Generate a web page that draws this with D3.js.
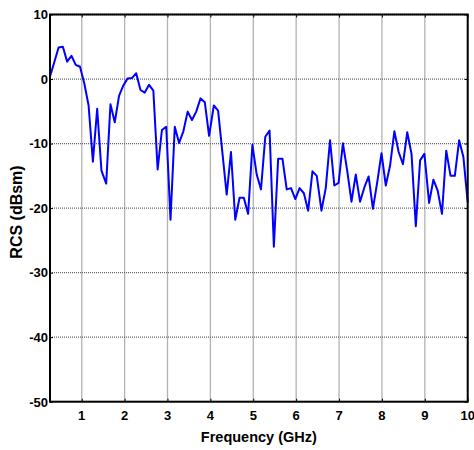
<!DOCTYPE html>
<meta charset="utf-8">
<style>
body { margin: 0; background: #fff; }
text { font-family: "Liberation Sans", Arial, sans-serif; font-weight: bold; fill: #000; }
</style>
<body>
<div id="chart"></div>
<script src="https://d3js.org/d3.v7.min.js"></script>
<script>

// frequency samples (GHz)
var freq = [0.26,0.36,0.46,0.56,0.66,0.76,0.86,0.96,1.06,1.16,1.26,1.36,1.46,
  1.57,1.67,1.77,1.87,1.97,2.07,2.17,2.27,2.37,2.47,2.57,2.67,2.77,2.87,2.97,3.07,3.17,3.27,3.37,3.47,3.57,3.67,3.77,3.87,3.97,
  4.08,4.18,4.28,4.38,4.48,4.58,4.68,4.78,4.88,4.98,5.08,5.18,5.28,5.38,5.48,5.58,5.68,5.78,5.88,5.98,6.08,6.18,6.28,6.38,6.48,
  6.59,6.69,6.79,6.89,6.99,7.09,7.19,7.29,7.39,7.49,7.59,7.69,7.79,7.89,7.99,8.09,8.19,8.29,8.39,8.49,8.59,8.69,8.79,8.89,8.99,
  9.10,9.20,9.30,9.40,9.50,9.60,9.70,9.80,9.90,10.00];

// RCS (dBsm)
var rcs = [0.4,2.6,4.9,5.0,2.7,3.6,2.2,1.9,-0.7,-4.1,
  -12.8,-4.6,-14.2,-16.2,-3.9,-6.7,-2.6,-1.0,0.1,0.15,
  0.9,-1.7,-2.1,-0.9,-1.8,-14.0,-7.9,-7.4,-21.8,-7.4,
  -9.9,-8.1,-5.05,-6.35,-5.05,-3.0,-3.6,-8.8,-4.1,-4.9,
  -11.4,-17.9,-11.3,-21.8,-18.4,-18.4,-20.9,-10.2,-14.8,-17.1,
  -8.95,-8.0,-26.0,-12.35,-12.35,-17.1,-16.9,-18.6,-16.9,-17.7,
  -20.4,-14.3,-15.0,-20.4,-16.9,-9.5,-16.5,-16.1,-9.95,-14.2,
  -19.0,-14.8,-19.0,-16.8,-15.1,-20.1,-16.0,-11.5,-16.5,-13.4,
  -8.1,-11.3,-13.2,-8.25,-11.6,-22.8,-12.6,-11.6,-19.2,-15.6,
  -17.3,-20.9,-11.1,-15.0,-15.0,-9.5,-12.1,-19.1];

var xTicks = [1,2,3,4,5,6,7,8,9,10];
var yTicks = [-50,-40,-30,-20,-10,0,10];

var W = 474, H = 450;
var margin = {top: 14.5, right: 6.3, bottom: 48.3, left: 50},
    width = W - margin.left - margin.right,
    height = H - margin.top - margin.bottom;

var svg = d3.select('#chart').append('svg')
    .attr('width', W)
    .attr('height', H);

var g = svg.append('g')
    .attr('transform', 'translate(' + margin.left + ',' + margin.top + ')');

var x = d3.scaleLinear().domain([0.26, 10]).range([0, width]);
var y = d3.scaleLinear().domain([-50, 10]).range([height, 0]);

// grid (dotted, matlab style)
g.append('g').selectAll('line').data(xTicks).join('line')
    .attr('x1', d => x(d)).attr('x2', d => x(d))
    .attr('y1', 0).attr('y2', height)
    .attr('stroke', '#666').attr('stroke-width', 1.3).attr('stroke-dasharray', '1,1');

g.append('g').selectAll('line').data(yTicks).join('line')
    .attr('y1', d => y(d)).attr('y2', d => y(d))
    .attr('x1', 0).attr('x2', width)
    .attr('stroke', '#666').attr('stroke-width', 1.3).attr('stroke-dasharray', '1,1');

// the curve
var line = d3.line()
    .x((d, i) => x(freq[i]))
    .y(d => y(d));

g.append('path')
    .datum(rcs)
    .attr('d', line)
    .attr('fill', 'none')
    .attr('stroke', '#0000ff')
    .attr('stroke-width', 2)
    .attr('stroke-linejoin', 'round');

// inward ticks on all four sides
var tk = 3;
g.append('g').call(d3.axisBottom(x).tickValues(xTicks).tickSize(-tk).tickFormat(''))
    .attr('transform', 'translate(0,' + height + ')');
g.append('g').call(d3.axisTop(x).tickValues(xTicks).tickSize(-tk).tickFormat(''));
g.append('g').call(d3.axisLeft(y).tickValues(yTicks).tickSize(-tk).tickFormat(''));
g.append('g').call(d3.axisRight(y).tickValues(yTicks).tickSize(-tk).tickFormat(''))
    .attr('transform', 'translate(' + width + ',0)');
g.selectAll('.domain').remove();
g.selectAll('.tick line').attr('stroke', '#000');

// box
g.append('rect')
    .attr('x', 0).attr('y', 0)
    .attr('width', width).attr('height', height)
    .attr('fill', 'none')
    .attr('stroke', '#000')
    .attr('stroke-width', 2);

// tick labels
g.append('g').selectAll('text').data(xTicks).join('text')
    .attr('x', d => x(d))
    .attr('y', height + 18.5)
    .attr('text-anchor', 'middle')
    .style('font-size', '13px')
    .text(d => d);

g.append('g').selectAll('text').data(yTicks).join('text')
    .attr('x', -2)
    .attr('y', d => y(d) + 4.8)
    .attr('text-anchor', 'end')
    .style('font-size', '13px')
    .text(d => d);

// axis titles
svg.append('text')
    .attr('x', margin.left + width / 2)
    .attr('y', 442)
    .attr('text-anchor', 'middle')
    .style('font-size', '14.5px')
    .text('Frequency (GHz)');

svg.append('text')
    .attr('transform', 'translate(22,212) rotate(-90)')
    .attr('text-anchor', 'middle')
    .style('font-size', '16px')
    .text('RCS (dBsm)');

</script>
